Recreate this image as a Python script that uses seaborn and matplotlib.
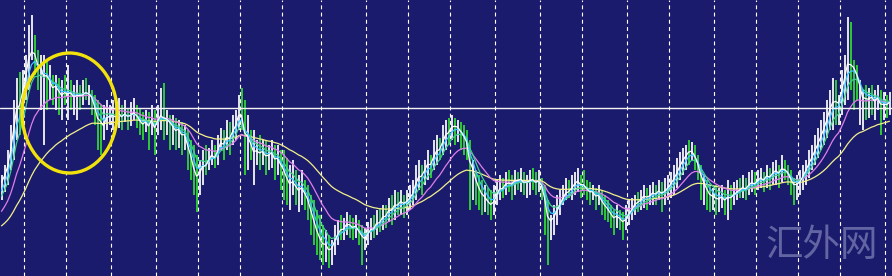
import numpy as np
import pandas as pd
import matplotlib
matplotlib.use("Agg")
import matplotlib.pyplot as plt
import seaborn as sns
from matplotlib.patches import Ellipse

# ---------------- data (price units) ----------------
high = [101,111,126,151,176,198,204,206,
        221,251,261,241,226,221,221,216,211,201,201,198,196,201,
        211,196,191,196,191,196,198,191,186,181,176,171,171,176,171,
        176,171,178,171,176,168,174,178,171,168,164,166,164,171,166,
        171,188,193,166,161,161,158,156,154,151,146,136,131,121,
        116,126,131,128,136,131,141,148,146,156,154,161,166,181,
        188,176,161,146,146,136,141,136,136,131,136,131,131,126,
        126,118,111,116,106,101,106,96,91,81,76,66,61,
        51,46,41,36,51,56,61,58,64,61,58,61,56,51,48,
        54,58,61,66,68,71,71,78,81,86,84,86,81,86,
        91,96,111,116,111,116,126,121,136,141,138,151,156,158,
        161,158,156,154,151,146,136,116,106,101,96,91,88,86,91,
        96,101,98,104,106,101,106,104,108,104,101,106,108,104,106,
        98,91,76,61,71,81,86,91,98,96,101,104,108,101,
        106,96,94,91,88,91,86,81,76,71,66,71,66,64,71,
        76,78,81,84,86,91,88,91,94,91,96,94,98,101,
        104,111,118,124,128,131,136,134,131,121,111,101,96,91,88,
        91,88,91,86,96,91,94,96,98,101,98,104,106,104,
        106,108,104,111,108,114,116,111,121,116,111,106,98,101,
        106,111,116,126,131,141,148,156,164,176,186,198,196,181,
        206,221,259,254,216,211,196,186,191,188,191,186,191,186,184,181,184]

low = [76,84,91,106,116,136,141,161,
       176,186,216,201,186,166,131,166,176,171,166,161,156,171,
       156,166,161,156,166,171,176,171,161,151,126,121,136,146,151,
       146,151,148,146,154,146,150,156,148,141,136,144,126,141,121,
       141,146,136,141,126,131,126,128,121,126,106,96,81,64,
       81,91,101,106,111,108,111,126,116,126,121,131,136,146,
       146,101,106,116,91,111,106,111,101,106,108,96,101,86,
       76,71,66,81,71,64,71,66,56,41,31,21,16,
       11,14,8,11,21,31,36,36,41,38,36,38,31,11,26,
       31,36,38,41,44,46,48,54,51,56,61,61,58,61,
       66,71,76,86,81,91,96,98,106,111,116,121,126,131,
       136,131,134,126,121,116,66,76,71,66,61,64,61,56,61,
       71,76,78,81,84,76,81,86,84,81,78,81,86,81,84,
       76,41,11,36,41,51,61,71,76,78,76,81,84,78,
       81,76,71,76,66,71,61,56,54,48,41,48,46,36,46,
       51,56,61,64,66,68,66,71,71,71,76,64,71,76,
       78,81,88,96,101,106,111,116,106,96,76,71,66,64,66,
       61,64,68,61,56,66,71,76,78,78,76,81,84,81,
       86,88,84,88,86,91,91,88,94,96,91,81,71,76,
       81,86,91,98,106,111,118,126,131,138,146,146,151,151,
       161,171,176,186,166,176,151,146,156,158,161,156,166,141,156,158,161]

close = [94,106,118,141,166,186,176,196,
         211,236,231,221,201,206,191,201,191,181,191,181,176,186,
         181,184,176,181,181,181,186,181,176,161,146,151,146,166,161,
         161,158,166,156,164,158,161,166,158,151,148,156,146,161,141,
         161,166,156,156,151,146,141,148,136,141,121,111,96,91,
         106,116,111,121,126,116,131,141,131,146,136,151,156,171,
         161,126,136,126,116,126,121,126,116,121,126,111,118,106,
         101,91,86,96,86,81,91,78,71,56,46,36,31,
         26,31,21,28,41,48,51,48,56,51,46,51,41,36,34,
         46,51,48,58,54,64,61,71,66,76,71,78,71,76,
         81,86,101,106,101,111,118,111,126,131,128,141,148,146,
         154,151,148,141,136,128,96,101,86,81,76,76,71,68,76,
         86,94,88,96,94,91,98,96,98,91,94,96,98,91,96,
         86,66,41,51,61,71,76,84,88,86,91,96,98,88,
         91,84,81,84,76,81,71,66,64,58,54,61,56,51,58,
         66,71,76,76,78,84,78,81,86,81,88,81,86,91,
         96,101,108,116,121,124,128,126,116,106,91,86,81,76,78,
         76,76,81,73,81,78,84,86,88,91,86,94,96,91,
         98,101,94,104,98,106,108,101,111,106,101,91,86,91,
         96,104,111,118,124,131,138,146,154,164,176,181,176,171,
         196,211,226,211,206,196,181,166,176,176,181,171,181,166,171,171,176]

direction = ("WWWWWWGW" "WWWGGWWGWGWGWG" "WGWWGWGWGGGGWWW" "WGWGWGWWGGGWGWG"
             "WWGWGWGWGWGGGG" "WWGWWGWWGWGWWW" "GGWGWWGWGWWGWG" "GGWWGWWGGGGGG"
             "GWGWWWGWWGGWGGW" "WWGWGWGWGWGWGW" "WWWWGWWGWWGWWG" "WGWGGGGWGGGWGGW"
             "WWGWGGWGWGWWGGW" "GGGWWWWWWGWWWG" "GGGWGWGGGGGWGGW" "WWWGWWGWWGWGWW"
             "WWWWWWGWGGGWGGW" "GWWGWGWWGWGWWG" "WWGWGWWGWGGGGW" "WWWWWWWWWWWWGW"
             "WWWGGGWWGWGWWGWGW")

# bar index where each new period starts (dashed separators)
period_starts = [7.5, 21.5, 36.5, 51.5, 65.5, 79.5, 93.5, 106.5, 121.5, 135.5,
                 149.5, 164.5, 179.5, 193.5, 208.5, 222.5, 237.5, 251.5, 265.5,
                 279.5, 294.5]

level = 168          # horizontal price level
ma_names  = ["fast", "ma5", "ma8", "ma17", "ma42"]
ma_spans  = [3, 5, 8, 17, 42]
ma_seeds  = [94, 81, 76, 61, 48]   # indicator values at the first visible bar
watermark = "汇外网"

n = len(close)
assert len(high) == n and len(low) == n and len(direction) == n, (len(high), len(low), n, len(direction))

# ---------------- style ----------------
BG = "#1b1b6e"
BAR_UP = "#ffffff"
BAR_DN = "#33dd33"
MA_COLORS = ["#ffffff", "#38c8ff", "#3fcf8a", "#e07ee8", "#f2f08a"]

sns.set_style("dark")
plt.rcParams["font.family"] = ["Noto Sans CJK SC", "DejaVu Sans"]

fig = plt.figure(figsize=(8.92, 2.76), dpi=100, facecolor=BG)
ax = fig.add_axes([0, 0, 1, 1])
ax.set_facecolor(BG)

df = pd.DataFrame({"idx": np.arange(n), "high": high, "low": low,
                   "close": close, "dir": list(direction)})

# separators
for p in period_starts:
    ax.axvline(p, color="white", lw=0.8, ls=(0, (3.5, 3)), zorder=1)

# bars
up = df[df["dir"] == "W"]
dn = df[df["dir"] == "G"]
ax.vlines(dn["idx"], dn["low"], dn["high"], color=BAR_DN, lw=1.25, zorder=2)
ax.vlines(up["idx"], up["low"], up["high"], color=BAR_UP, lw=1.25, zorder=2)

# moving averages
def ema(values, span, seed):
    s = pd.Series([seed] + list(values), dtype=float)
    return s.ewm(span=span, adjust=False).mean().iloc[1:].to_numpy()

for name, span, seed, col in reversed(list(zip(ma_names, ma_spans, ma_seeds, MA_COLORS))):
    df[name] = ema(df["close"], span, seed)
    sns.lineplot(data=df, x="idx", y=name, color=col, lw=0.9, ax=ax, zorder=3)

# horizontal level
ax.axhline(level, color="#f4f4f4", lw=1.0, zorder=4)

# highlight ellipse
ax.add_patch(Ellipse((22.7, 163), width=31.7, height=120, fill=False,
                     edgecolor="#f2e20c", lw=2.4, zorder=5))

# watermark
ax.text(0.9215, 0.112, watermark, transform=ax.transAxes, ha="center", va="center",
        fontsize=27, color="#6a6ea8", alpha=0.9, zorder=6)

ax.set_xlim(-0.5, 892 / 3 - 0.5)
ax.set_ylim(0, 276)
ax.set_xticks([]); ax.set_yticks([])
ax.set_xlabel(""); ax.set_ylabel("")
for s in ax.spines.values():
    s.set_visible(False)

fig.savefig("out.png", dpi=100, facecolor=BG)
